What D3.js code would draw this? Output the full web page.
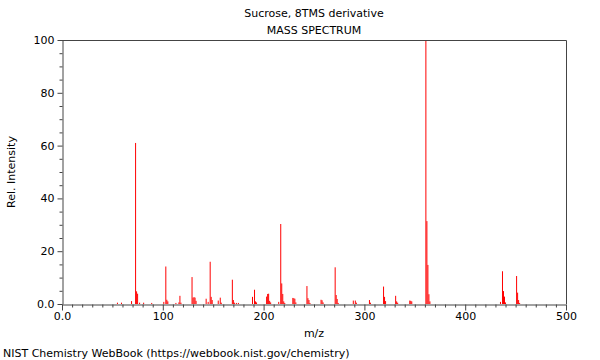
<!DOCTYPE html>
<html>
<head>
<meta charset="utf-8">
<script src="https://cdn.jsdelivr.net/npm/d3@7"></script>
<style>
  html, body { margin: 0; padding: 0; background: #fff; }
  svg { display: block; font-family: "DejaVu Sans", sans-serif; }
</style>
</head>
<body>
<svg id="chart" width="600" height="360"></svg>
<script>
const titleLines = ["Sucrose, 8TMS derivative", "MASS SPECTRUM"];
const xLabel = "m/z";
const yLabel = "Rel. Intensity";
const footer = "NIST Chemistry WebBook (https://webbook.nist.gov/chemistry)";

const mz = [55, 59, 69, 73, 74, 75, 77, 81, 89, 101, 103, 104, 105, 113, 116, 117, 118,
  129, 130, 131, 132, 133, 143, 145, 147, 148, 149, 155, 157, 158, 169, 170, 171, 173, 175,
  189, 191, 192, 193, 203, 204, 205, 206, 207, 215, 217, 218, 219, 220, 221, 229, 230, 231, 232,
  243, 244, 245, 246, 257, 258, 259, 271, 272, 273, 274, 289, 291, 292, 305, 306,
  319, 320, 321, 331, 332, 333, 345, 346, 347, 361, 362, 363, 364, 365,
  435, 437, 438, 439, 440, 451, 452, 453, 454];
const intensity = [0.5, 0.5, 1.1, 61, 4.8, 3.9, 0.5, 0.5, 0.4, 0.8, 14.2, 1.6, 1.0, 0.4, 0.6, 3.1, 0.5,
  10.2, 2.4, 2.6, 2.4, 1.2, 2.0, 0.8, 16, 2.7, 1.5, 1.3, 2.4, 0.5, 9.2, 1.5, 0.5, 0.4, 0.4,
  2.7, 5.4, 1.0, 0.6, 2.8, 3.8, 3.9, 1.2, 0.6, 0.8, 30.3, 7.8, 3.8, 1.0, 0.4, 2.3, 2.2, 2.0, 0.6,
  6.8, 2.2, 1.5, 0.4, 1.6, 1.4, 0.6, 13.9, 3.4, 1.9, 0.4, 1.3, 1.3, 0.5, 1.5, 0.5,
  6.6, 2.7, 1.1, 3.1, 1.0, 0.5, 1.3, 1.2, 1.0, 100, 31.4, 14.8, 3.7, 1.0,
  0.8, 12.4, 4.9, 2.8, 0.6, 10.6, 4.3, 1.5, 0.4];

const xMajorTicks = [0, 100, 200, 300, 400, 500];
const xTickLabels = ["0.0", "100", "200", "300", "400", "500"];
const yMajorTicks = [0, 20, 40, 60, 80, 100];
const yTickLabels = ["0.0", "20", "40", "60", "80", "100"];

const svg = d3.select("#chart");
const L = 62, R = 566, T = 40, B = 304;
const x = d3.scaleLinear().domain([0, 500]).range([L, R]);
const y = d3.scaleLinear().domain([0, 100]).range([B, T]);
const axisColor = "#444";

// peaks
const peaks = mz.map((m, i) => ({ m, v: intensity[i] }));
svg.append("g").selectAll("line").data(peaks).join("line")
  .attr("x1", d => x(d.m)).attr("x2", d => x(d.m))
  .attr("y1", y(0)).attr("y2", d => y(d.v))
  .attr("stroke", "#ff0000").attr("stroke-width", 1);

// frame (top & right)
svg.append("path")
  .attr("d", `M${L},${T + 0.5}H${R + 0.5}V${B}`)
  .attr("fill", "none").attr("stroke", axisColor).attr("stroke-width", 1);

// x axis minor
const xMinor = d3.range(0, 501, 10).filter(v => v % 100 !== 0);
svg.append("g").attr("transform", `translate(0,${B + 0.5})`)
  .call(d3.axisBottom(x).tickValues(xMinor).tickSize(3).tickFormat(""))
  .call(g => g.select(".domain").remove())
  .call(g => g.selectAll("line").attr("stroke", axisColor));
// x axis major
svg.append("g").attr("transform", `translate(0,${B + 0.5})`)
  .call(d3.axisBottom(x).tickValues(xMajorTicks).tickSize(6).tickSizeOuter(0)
    .tickFormat((d, i) => xTickLabels[i]))
  .call(g => g.select(".domain").attr("stroke", axisColor))
  .call(g => g.selectAll("line").attr("stroke", axisColor))
  .call(g => g.selectAll("text").attr("font-size", 11).attr("fill", "#000")
    .attr("font-family", "DejaVu Sans, sans-serif").attr("dy", "0.9em").attr("y", 6));

// y axis minor
const yMinor = d3.range(0, 101, 5).filter(v => v % 20 !== 0);
svg.append("g").attr("transform", `translate(${L + 0.5},0)`)
  .call(d3.axisLeft(y).tickValues(yMinor).tickSize(3).tickFormat(""))
  .call(g => g.select(".domain").remove())
  .call(g => g.selectAll("line").attr("stroke", axisColor));
// y axis major
svg.append("g").attr("transform", `translate(${L + 0.5},0)`)
  .call(d3.axisLeft(y).tickValues(yMajorTicks).tickSize(5).tickSizeOuter(0)
    .tickFormat((d, i) => yTickLabels[i]))
  .call(g => g.select(".domain").attr("stroke", axisColor))
  .call(g => g.selectAll("line").attr("stroke", axisColor))
  .call(g => g.selectAll("text").attr("font-size", 11).attr("fill", "#000")
    .attr("font-family", "DejaVu Sans, sans-serif").attr("x", -8));

// titles
svg.selectAll("text.title").data(titleLines).join("text").attr("class", "title")
  .attr("x", (L + R) / 2).attr("y", (d, i) => 17 + i * 17)
  .attr("text-anchor", "middle").attr("font-size", 11).text(d => d);

svg.append("text").attr("x", (L + R) / 2).attr("y", 337)
  .attr("text-anchor", "middle").attr("font-size", 11).text(xLabel);

svg.append("text").attr("transform", `translate(15,${(T + B) / 2}) rotate(-90)`)
  .attr("text-anchor", "middle").attr("font-size", 11).text(yLabel);

svg.append("text").attr("x", 3).attr("y", 357).attr("font-size", 11).text(footer);
</script>
</body>
</html>
